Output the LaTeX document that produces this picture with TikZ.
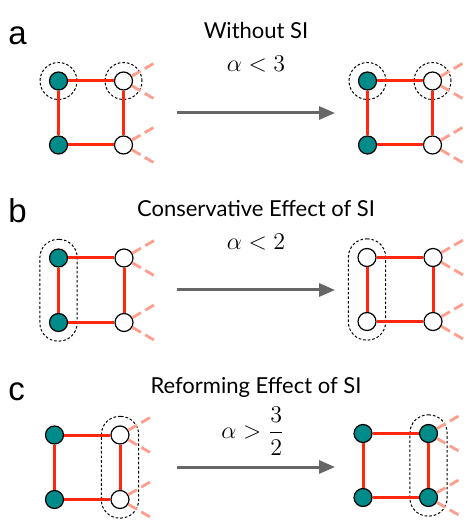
\documentclass[tikz,border=0pt]{standalone}
\usepackage{amsmath}
\usepackage[no-math]{fontspec}
\setmainfont{Lato}
\newfontfamily\panelfont{Liberation Sans}
\usetikzlibrary{arrows.meta, fit}
\definecolor{siteteal}{RGB}{0,139,139}
\definecolor{bondred}{RGB}{255,40,15}
\definecolor{stubpink}{RGB}{255,158,140}
\definecolor{movegray}{RGB}{102,102,102}

\begin{document}
\begin{tikzpicture}[x=0.5pt, y=-0.5pt,
  site/.style={circle, draw, line width=0.6pt, minimum size=9pt, inner sep=0pt},
  full/.style={site, fill=siteteal},
  empty/.style={site, fill=white},
  bond/.style={draw=bondred, line width=1.5pt},
  stub/.style={draw=stubpink, line width=1.4pt, dash pattern=on 5pt off 2.5pt},
  ring/.style={circle, draw, line width=0.5pt, dash pattern=on 1.3pt off 1pt, minimum size=18.5pt, inner sep=0pt},
  grp/.style={draw, rounded corners=9pt, line width=0.5pt, dash pattern=on 1.3pt off 1pt, inner sep=4.5pt},
  move/.style={draw=movegray, line width=1.5pt, -{Triangle[length=8pt, width=6.5pt]}},
  head/.style={anchor=base, inner sep=0pt, font=\fontsize{11}{13}\selectfont},
  cond/.style={anchor=base, inner sep=0pt, font=\fontsize{12}{14}\selectfont},
  panel/.style={anchor=base west, inner sep=0pt, font=\panelfont\fontsize{16.5}{18}\selectfont}]
\useasboundingbox (0,0) rectangle (470,522);

% a: without SI
\node[panel] (aLabel) at (8,45) {a};
\node[head] (aHead) at (256,39) {Without SI};
\node[cond] (aCond) at (256,72) {$\alpha < 3$};
\node[full]  (aL1) at (58.5,81) {};
\node[empty] (aL2) at (123.5,81) {};
\node[full]  (aL3) at (58.5,145) {};
\node[empty] (aL4) at (123.5,145) {};
\node[full]  (aR1) at (367.5,81) {};
\node[empty] (aR2) at (432.5,81) {};
\node[full]  (aR3) at (367.5,145) {};
\node[empty] (aR4) at (432.5,145) {};
\node[ring] (aRingL1) at (aL1) {};
\node[ring] (aRingL2) at (aL2) {};
\node[ring] (aRingR1) at (aR1) {};
\node[ring] (aRingR2) at (aR2) {};
\coordinate (aFrom) at (177,113);
\coordinate (aTo) at (335,113);
\draw[move] (aFrom) -- (aTo);

% b: conservative effect
\node[panel] (bLabel) at (8,223) {b};
\node[head] (bHead) at (256,217) {Conservative Effect of SI};
\node[cond] (bCond) at (256,250) {$\alpha < 2$};
\node[full]  (bL1) at (58.5,258) {};
\node[empty] (bL2) at (124,258) {};
\node[full]  (bL3) at (58.5,322.5) {};
\node[empty] (bL4) at (124,322.5) {};
\node[empty] (bR1) at (367,257.5) {};
\node[empty] (bR2) at (433,257.5) {};
\node[empty] (bR3) at (367,321.5) {};
\node[empty] (bR4) at (433,321.5) {};
\node[grp, fit=(bL1)(bL3)] (bGrpL) {};
\node[grp, fit=(bR1)(bR3)] (bGrpR) {};
\coordinate (bFrom) at (177,290);
\coordinate (bTo) at (335,290);
\draw[move] (bFrom) -- (bTo);

% c: reforming effect
\node[panel] (cLabel) at (8,400) {c};
\node[head] (cHead) at (256,393) {Reforming Effect of SI};
\node[cond, anchor=center] (cCond) at (253,431) {$\alpha > \dfrac{3}{2}$};
\node[full]  (cL1) at (54.5,435) {};
\node[empty] (cL2) at (120,435) {};
\node[full]  (cL3) at (54.5,499.5) {};
\node[empty] (cL4) at (120,499.5) {};
\node[full]  (cR1) at (363,433.5) {};
\node[full]  (cR2) at (428.5,433.5) {};
\node[full]  (cR3) at (363,497.5) {};
\node[full]  (cR4) at (428.5,497.5) {};
\node[grp, fit=(cL2)(cL4)] (cGrpL) {};
\node[grp, fit=(cR2)(cR4)] (cGrpR) {};
\coordinate (cFrom) at (177,467);
\coordinate (cTo) at (335,467);
\draw[move] (cFrom) -- (cTo);

% bonds and outgoing links
\foreach \sq in {aL,aR,bL,bR,cL,cR} {
  \draw[bond] (\sq1) -- (\sq2);
  \draw[bond] (\sq3) -- (\sq4);
  \draw[bond] (\sq1) -- (\sq3);
  \draw[bond] (\sq2) -- (\sq4);
  \foreach \n in {2,4} {
    \draw[stub] (\sq\n.30) -- ++(24,-14);
    \draw[stub] (\sq\n.-30) -- ++(24,14);
  }
}
\end{tikzpicture}
\end{document}
